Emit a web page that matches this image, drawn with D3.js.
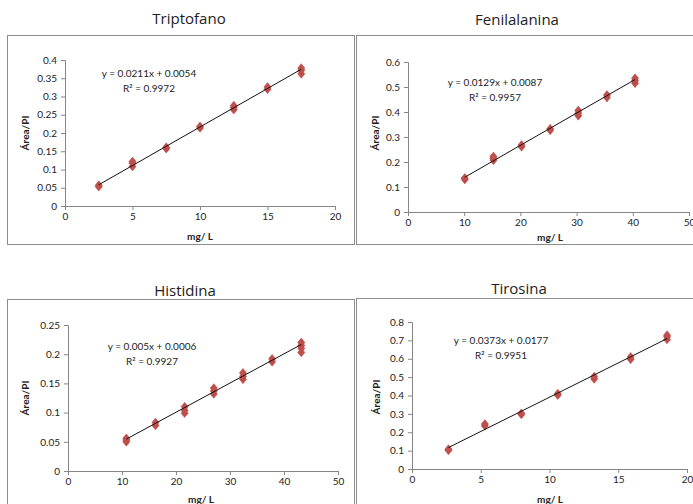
<!DOCTYPE html>
<html><head><meta charset="utf-8">
<script src="https://cdn.jsdelivr.net/npm/d3@7"></script>
<style>
body{margin:0;background:#fff;}
svg{display:block;}
text{font-family:Lato,"Open Sans",sans-serif;fill:#222;}
</style></head>
<body>
<svg id="c" width="693" height="504"></svg>
<script>
// ---- Data ----
const titles = ["Triptofano", "Fenilalanina", "Histidina", "Tirosina"];
const equations = ["y = 0.0211x + 0.0054", "y = 0.0129x + 0.0087", "y = 0.005x + 0.0006", "y = 0.0373x + 0.0177"];
const r2Labels = ["R² = 0.9972", "R² = 0.9957", "R² = 0.9927", "R² = 0.9951"];
const slopes = [0.0211, 0.0129, 0.005, 0.0373];
const intercepts = [0.0054, 0.0087, 0.0006, 0.0177];

const triptofanoX = [2.5,2.5, 5,5,5, 7.5,7.5, 10,10, 12.5,12.5,12.5, 15,15, 17.5,17.5,17.5];
const triptofanoY = [0.053,0.057, 0.108,0.117,0.122, 0.157,0.161, 0.214,0.218, 0.264,0.27,0.275, 0.32,0.326, 0.362,0.372,0.378];

const fenilalaninaX = [10.1,10.1, 15.2,15.2,15.2, 20.2,20.2, 25.3,25.3, 30.3,30.3,30.3, 35.4,35.4, 40.4,40.4,40.4];
const fenilalaninaY = [0.13,0.136, 0.207,0.215,0.222, 0.261,0.268, 0.327,0.333, 0.385,0.395,0.406, 0.458,0.468, 0.515,0.526,0.535];

const histidinaX = [10.8,10.8,10.8, 16.2,16.2, 21.6,21.6,21.6, 27,27,27, 32.4,32.4,32.4, 37.8,37.8, 43.2,43.2,43.2,43.2];
const histidinaY = [0.05,0.053,0.056, 0.078,0.083, 0.099,0.104,0.11, 0.132,0.137,0.142, 0.157,0.162,0.168, 0.187,0.192, 0.203,0.21,0.215,0.22];

const tirosinaX = [2.65,2.65, 5.3,5.3, 7.95,7.95, 10.6,10.6, 13.25,13.25, 15.9,15.9, 18.55,18.55,18.55];
const tirosinaY = [0.102,0.108, 0.235,0.245, 0.297,0.303, 0.402,0.41, 0.49,0.503, 0.597,0.61, 0.705,0.72,0.728];

const xDomains = [[0,20],[0,50],[0,50],[0,20]];
const yDomains = [[0,0.4],[0,0.6],[0,0.25],[0,0.8]];
const xTicks = [[0,5,10,15,20],[0,10,20,30,40,50],[0,10,20,30,40,50],[0,5,10,15,20]];
const yTicks = [[0,0.05,0.1,0.15,0.2,0.25,0.3,0.35,0.4],[0,0.1,0.2,0.3,0.4,0.5,0.6],[0,0.05,0.1,0.15,0.2,0.25],[0,0.1,0.2,0.3,0.4,0.5,0.6,0.7,0.8]];
const xLabel = "mg/ L";
const yLabel = "Área/PI";
const seriesX = [triptofanoX, fenilalaninaX, histidinaX, tirosinaX];
const seriesY = [triptofanoY, fenilalaninaY, histidinaY, tirosinaY];

// ---- Layout ----
const layout = [
  {box:[7,35,347,209], plot:[65,60,335,206], title:[189,24], eq:[149,77], yl:[25,133], xl:[200,240]},
  {box:[356,35,345,209], plot:[408,62,689,212], title:[517,25], eq:[495,86], yl:[375,133], xl:[550,241]},
  {box:[7,299,347,215], plot:[68,325,338,471], title:[185,296], eq:[152,350], yl:[25,398], xl:[201,503]},
  {box:[356,298,345,215], plot:[412,322,687,469], title:[519,294], eq:[501,344], yl:[376,397], xl:[550,503]}
];

const svg = d3.select("#c");
const fmt = v => (v===0 ? "0" : String(+v.toFixed(3)));
const diamond = "M0,-4.4L3.6,0L0,4.4L-3.6,0Z";

titles.forEach((t,i)=>{
  const L = layout[i];
  svg.append("rect").attr("x",L.box[0]+0.5).attr("y",L.box[1]+0.5)
    .attr("width",L.box[2]).attr("height",L.box[3])
    .attr("fill","none").attr("stroke","#8c8c8c").attr("stroke-width",1);
  svg.append("text").attr("x",L.title[0]).attr("y",L.title[1])
    .attr("text-anchor","middle").style("font-family","'Open Sans',sans-serif")
    .style("font-size","15px").style("font-weight","400").text(t);

  const [x0,y0,x1,y1] = L.plot;
  const x = d3.scaleLinear().domain(xDomains[i]).range([x0,x1]);
  const y = d3.scaleLinear().domain(yDomains[i]).range([y1,y0]);

  const ga = svg.append("g").attr("transform",`translate(${x0},0)`)
    .call(d3.axisLeft(y).tickValues(yTicks[i]).tickFormat(fmt).tickSize(4).tickPadding(4));
  const gb = svg.append("g").attr("transform",`translate(0,${y1})`)
    .call(d3.axisBottom(x).tickValues(xTicks[i]).tickFormat(fmt).tickSize(4).tickPadding(3));
  [ga,gb].forEach(g=>{
    g.selectAll("path,line").attr("stroke","#868686");
    g.selectAll("text").style("font-size","10px").style("font-family","Lato,'Open Sans',sans-serif").attr("fill","#222");
  });

  const xs = seriesX[i];
  const xmin = d3.min(xs), xmax = d3.max(xs);

  svg.append("g").selectAll("path").data(xs.map((v,k)=>[v,seriesY[i][k]])).join("path")
    .attr("d",diamond)
    .attr("transform",d=>`translate(${x(d[0])},${y(d[1])})`)
    .attr("fill","#C0504D").attr("stroke","#B8453F").attr("stroke-width",0.5);

  svg.append("line")
    .attr("x1",x(xmin)).attr("y1",y(slopes[i]*xmin+intercepts[i]))
    .attr("x2",x(xmax)).attr("y2",y(slopes[i]*xmax+intercepts[i]))
    .attr("stroke","#111").attr("stroke-width",1);

  svg.append("text").attr("x",L.eq[0]).attr("y",L.eq[1]).attr("text-anchor","middle")
    .style("font-size","10px").text(equations[i]);
  svg.append("text").attr("x",L.eq[0]).attr("y",L.eq[1]+14.5).attr("text-anchor","middle")
    .style("font-size","10px").text(r2Labels[i]);

  svg.append("text").attr("transform",`translate(${L.yl[0]},${L.yl[1]}) rotate(-90)`)
    .attr("text-anchor","middle").attr("dy","0.35em")
    .style("font-size","10px").style("font-weight","bold").text(yLabel);
  svg.append("text").attr("x",L.xl[0]).attr("y",L.xl[1]).attr("text-anchor","middle")
    .style("font-size","10px").style("font-weight","bold").text(xLabel);
});
</script>
</body></html>
